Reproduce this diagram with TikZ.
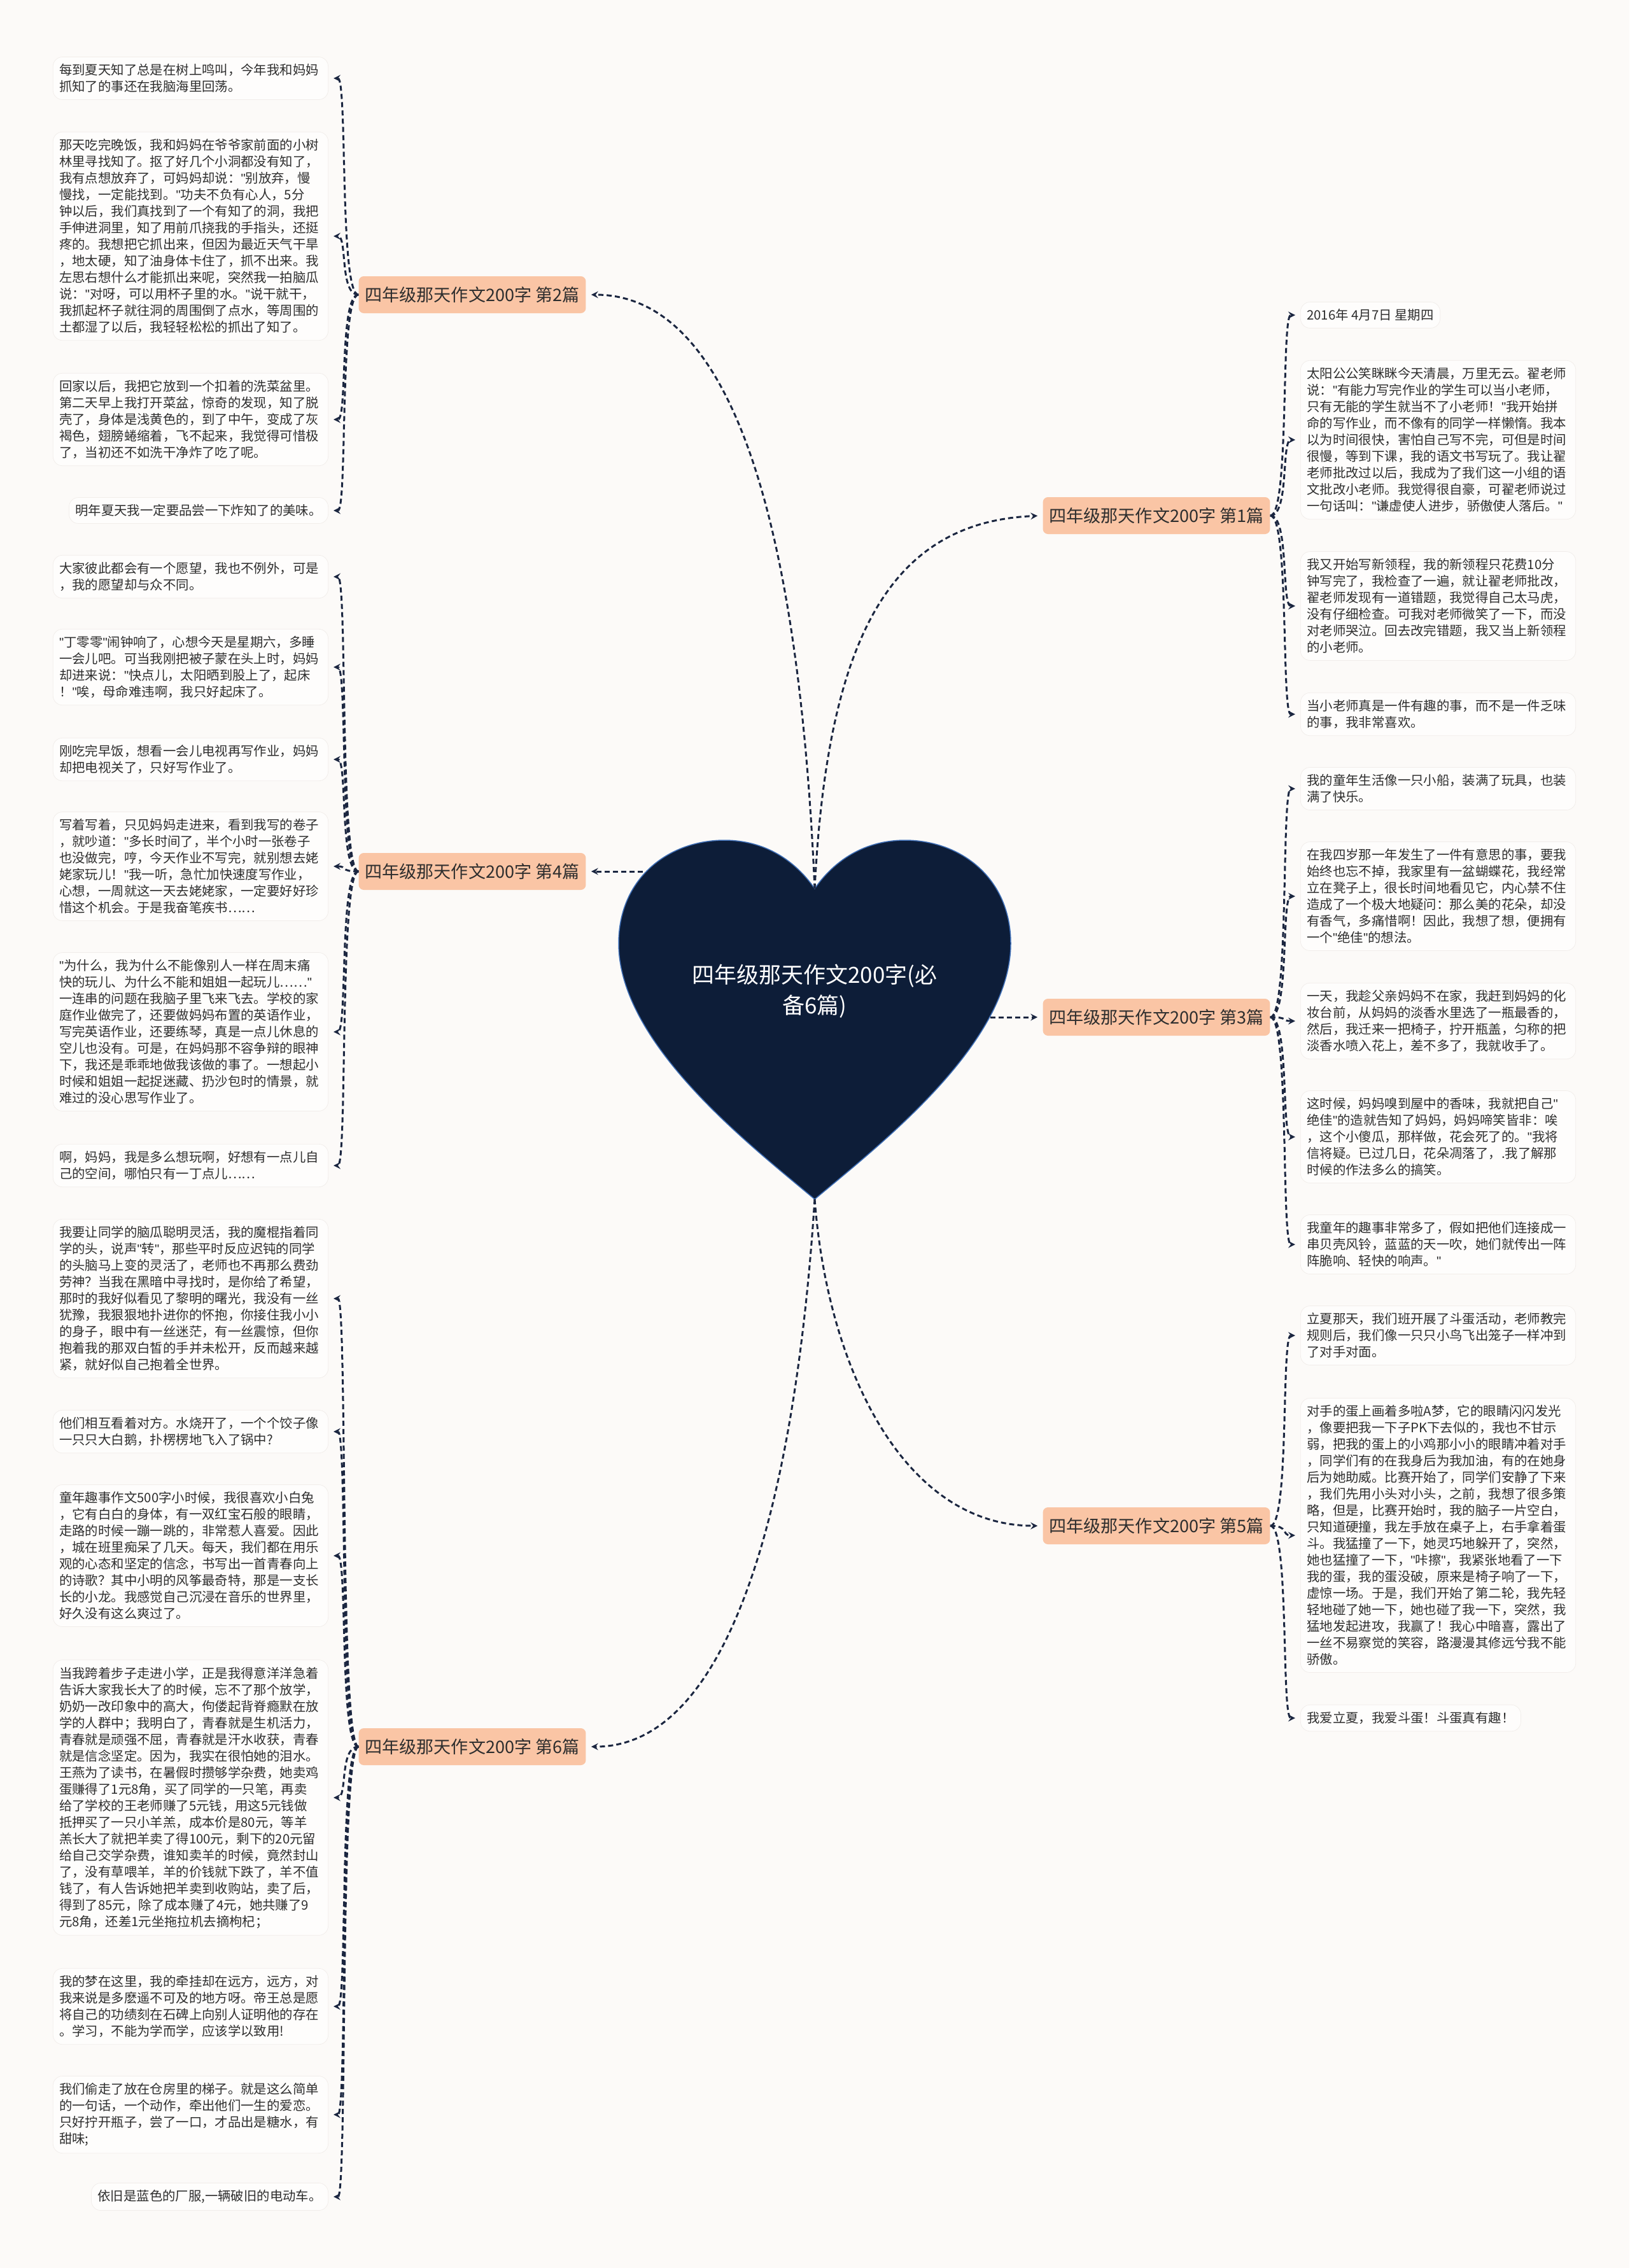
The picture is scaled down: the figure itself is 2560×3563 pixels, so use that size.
\documentclass[tikz,border=0pt]{standalone}
\usepackage{fontspec}
\setmainfont{Noto Sans CJK SC}
\newfontfamily\quotefont{Liberation Sans}
\newcommand{\dq}{{\quotefont"}}
\usepackage{xcolor}
\usepackage{tikz}
\usetikzlibrary{arrows, positioning, calc}

\definecolor{pagebg}{HTML}{FCFAF8}
\definecolor{heartfill}{HTML}{0D1D38}
\definecolor{heartline}{HTML}{3D6DB5}
\definecolor{pianfill}{HTML}{FAC5A5}
\definecolor{leafline}{HTML}{F1EDEA}
\definecolor{linkcol}{HTML}{1B2640}
\definecolor{inkcol}{HTML}{2E2E2E}

\begin{document}
\begin{tikzpicture}[
  x=0.02cm, y=-0.02cm,
  roottext/.style={font=\fontsize{19.9}{27.3}\selectfont, text=white, align=center},
  pian/.style={rectangle, rounded corners=0.16cm, fill=pianfill, minimum width=7.14cm, minimum height=1.16cm, font=\fontsize{15.4}{18}\selectfont, text=inkcol},
  leaf/.style={rectangle, rounded corners=0.3cm, fill=white!60!pagebg, draw=leafline, line width=0.4pt, align=left, inner xsep=0.2cm, inner ysep=0.22cm, font=\fontsize{11.6}{14.8}\selectfont, text=inkcol},
  wide/.style={text width=8.25cm},
  link/.style={->, >=stealth, line width=0.06cm, dash pattern=on 0.16cm off 0.1cm, draw=linkcol, shorten >=0.16cm}
]

%% Page
\fill[pagebg] (0,0) rectangle (2560,3563);

%% Heart
\fill[heartfill, draw=heartline, line width=0.03cm] (1280,1884)
  .. controls (1180,1800) and (972,1640) .. (972,1482)
  .. controls (972,1380) and (1050,1320) .. (1138,1320)
  .. controls (1210,1320) and (1255,1360) .. (1280,1396)
  .. controls (1305,1360) and (1350,1320) .. (1422,1320)
  .. controls (1510,1320) and (1588,1380) .. (1588,1482)
  .. controls (1588,1640) and (1380,1800) .. (1280,1884) -- cycle;
\node[roottext] (root) at (1280,1557) {四年级那天作文200字(必\\备6篇)};
\coordinate (rootTop) at (1280,1396);
\coordinate (rootBot) at (1280,1884);
\coordinate (rootL) at (1010,1369);
\coordinate (rootR) at (1556,1598);

%% Branches
\node[pian] (p1) at (1817,810) {四年级那天作文200字 第1篇};
\node[pian] (p2) at (742,463) {四年级那天作文200字 第2篇};
\node[pian] (p3) at (1817,1598) {四年级那天作文200字 第3篇};
\node[pian] (p4) at (742,1369) {四年级那天作文200字 第4篇};
\node[pian] (p5) at (1817,2397) {四年级那天作文200字 第5篇};
\node[pian] (p6) at (742,2744) {四年级那天作文200字 第6篇};

%% Leaves of 第2篇
\node[leaf, wide, anchor=east] (l2a) at (516,123) {每到夏天知了总是在树上鸣叫，今年我和妈妈\\抓知了的事还在我脑海里回荡。};
\node[leaf, wide, anchor=east] (l2b) at (516,371) {那天吃完晚饭，我和妈妈在爷爷家前面的小树\\林里寻找知了。抠了好几个小洞都没有知了，\\我有点想放弃了，可妈妈却说：\dq{}别放弃，慢\\慢找，一定能找到。\dq{}功夫不负有心人，5分\\钟以后，我们真找到了一个有知了的洞，我把\\手伸进洞里，知了用前爪挠我的手指头，还挺\\疼的。我想把它抓出来，但因为最近天气干旱\\，地太硬，知了油身体卡住了，抓不出来。我\\左思右想什么才能抓出来呢，突然我一拍脑瓜\\说：\dq{}对呀，可以用杯子里的水。\dq{}说干就干，\\我抓起杯子就往洞的周围倒了点水，等周围的\\土都湿了以后，我轻轻松松的抓出了知了。};
\node[leaf, wide, anchor=east] (l2c) at (516,659) {回家以后，我把它放到一个扣着的洗菜盆里。\\第二天早上我打开菜盆，惊奇的发现，知了脱\\壳了，身体是浅黄色的，到了中午，变成了灰\\褐色，翅膀蜷缩着，飞不起来，我觉得可惜极\\了，当初还不如洗干净炸了吃了呢。};
\node[leaf, anchor=east] (l2d) at (516,802) {明年夏天我一定要品尝一下炸知了的美味。};

%% Leaves of 第4篇
\node[leaf, wide, anchor=east] (l4a) at (516,906) {大家彼此都会有一个愿望，我也不例外，可是\\，我的愿望却与众不同。};
\node[leaf, wide, anchor=east] (l4b) at (516,1048) {\dq{}丁零零\dq{}闹钟响了，心想今天是星期六，多睡\\一会儿吧。可当我刚把被子蒙在头上时，妈妈\\却进来说：\dq{}快点儿，太阳晒到股上了，起床\\！\dq{}唉，母命难违啊，我只好起床了。};
\node[leaf, wide, anchor=east] (l4c) at (516,1193) {刚吃完早饭，想看一会儿电视再写作业，妈妈\\却把电视关了，只好写作业了。};
\node[leaf, wide, anchor=east] (l4d) at (516,1361) {写着写着，只见妈妈走进来，看到我写的卷子\\，就吵道：\dq{}多长时间了，半个小时一张卷子\\也没做完，哼，今天作业不写完，就别想去姥\\姥家玩儿！\dq{}我一听，急忙加快速度写作业，\\心想，一周就这一天去姥姥家，一定要好好珍\\惜这个机会。于是我奋笔疾书……};
\node[leaf, wide, anchor=east] (l4e) at (516,1621) {\dq{}为什么，我为什么不能像别人一样在周末痛\\快的玩儿、为什么不能和姐姐一起玩儿……\dq{}\\一连串的问题在我脑子里飞来飞去。学校的家\\庭作业做完了，还要做妈妈布置的英语作业，\\写完英语作业，还要练琴，真是一点儿休息的\\空儿也没有。可是，在妈妈那不容争辩的眼神\\下，我还是乖乖地做我该做的事了。一想起小\\时候和姐姐一起捉迷藏、扔沙包时的情景，就\\难过的没心思写作业了。};
\node[leaf, wide, anchor=east] (l4f) at (516,1831) {啊，妈妈，我是多么想玩啊，好想有一点儿自\\己的空间，哪怕只有一丁点儿……};

%% Leaves of 第6篇
\node[leaf, wide, anchor=east] (l6a) at (516,2040) {我要让同学的脑瓜聪明灵活，我的魔棍指着同\\学的头，说声\dq{}转\dq{}，那些平时反应迟钝的同学\\的头脑马上变的灵活了，老师也不再那么费劲\\劳神？当我在黑暗中寻找时，是你给了希望，\\那时的我好似看见了黎明的曙光，我没有一丝\\犹豫，我狠狠地扑进你的怀抱，你接住我小小\\的身子，眼中有一丝迷茫，有一丝震惊，但你\\抱着我的那双白皙的手并未松开，反而越来越\\紧，就好似自己抱着全世界。};
\node[leaf, wide, anchor=east] (l6b) at (516,2249) {他们相互看着对方。水烧开了，一个个饺子像\\一只只大白鹅，扑楞楞地飞入了锅中?};
\node[leaf, wide, anchor=east] (l6c) at (516,2444) {童年趣事作文500字小时候，我很喜欢小白兔\\，它有白白的身体，有一双红宝石般的眼睛，\\走路的时候一蹦一跳的，非常惹人喜爱。因此\\，城在班里痴呆了几天。每天，我们都在用乐\\观的心态和坚定的信念，书写出一首青春向上\\的诗歌？其中小明的风筝最奇特，那是一支长\\长的小龙。我感觉自己沉浸在音乐的世界里，\\好久没有这么爽过了。};
\node[leaf, wide, anchor=east] (l6d) at (516,2824) {当我跨着步子走进小学，正是我得意洋洋急着\\告诉大家我长大了的时候，忘不了那个放学，\\奶奶一改印象中的高大，佝偻起背脊瘾默在放\\学的人群中；我明白了，青春就是生机活力，\\青春就是顽强不屈，青春就是汗水收获，青春\\就是信念坚定。因为，我实在很怕她的泪水。\\王燕为了读书，在暑假时攒够学杂费，她卖鸡\\蛋赚得了1元8角，买了同学的一只笔，再卖\\给了学校的王老师赚了5元钱，用这5元钱做\\抵押买了一只小羊羔，成本价是80元，等羊\\羔长大了就把羊卖了得100元，剩下的20元留\\给自己交学杂费，谁知卖羊的时候，竟然封山\\了，没有草喂羊，羊的价钱就下跌了，羊不值\\钱了，有人告诉她把羊卖到收购站，卖了后，\\得到了85元，除了成本赚了4元，她共赚了9\\元8角，还差1元坐拖拉机去摘枸杞；};
\node[leaf, wide, anchor=east] (l6e) at (516,3152) {我的梦在这里，我的牵挂却在远方，远方，对\\我来说是多麽遥不可及的地方呀。帝王总是愿\\将自己的功绩刻在石碑上向别人证明他的存在\\。学习，不能为学而学，应该学以致用!};
\node[leaf, wide, anchor=east] (l6f) at (516,3322) {我们偷走了放在仓房里的梯子。就是这么简单\\的一句话，一个动作，牵出他们一生的爱恋。\\只好拧开瓶子，尝了一口，才品出是糖水，有\\甜味;};
\node[leaf, anchor=east] (l6g) at (516,3451) {依旧是蓝色的厂服,一辆破旧的电动车。};

%% Leaves of 第1篇
\node[leaf, anchor=west] (r1a) at (2043,495) {2016年 4月7日 星期四};
\node[leaf, wide, anchor=west] (r1b) at (2043,691) {太阳公公笑眯眯今天清晨，万里无云。翟老师\\说：\dq{}有能力写完作业的学生可以当小老师，\\只有无能的学生就当不了小老师！\dq{}我开始拼\\命的写作业，而不像有的同学一样懒惰。我本\\以为时间很快，害怕自己写不完，可但是时间\\很慢，等到下课，我的语文书写玩了。我让翟\\老师批改过以后，我成为了我们这一小组的语\\文批改小老师。我觉得很自豪，可翟老师说过\\一句话叫：\dq{}谦虚使人进步，骄傲使人落后。\dq{}};
\node[leaf, wide, anchor=west] (r1c) at (2043,952) {我又开始写新领程，我的新领程只花费10分\\钟写完了，我检查了一遍，就让翟老师批改，\\翟老师发现有一道错题，我觉得自己太马虎，\\没有仔细检查。可我对老师微笑了一下，而没\\对老师哭泣。回去改完错题，我又当上新领程\\的小老师。};
\node[leaf, wide, anchor=west] (r1d) at (2043,1122) {当小老师真是一件有趣的事，而不是一件乏味\\的事，我非常喜欢。};

%% Leaves of 第3篇
\node[leaf, wide, anchor=west] (r3a) at (2043,1239) {我的童年生活像一只小船，装满了玩具，也装\\满了快乐。};
\node[leaf, wide, anchor=west] (r3b) at (2043,1408) {在我四岁那一年发生了一件有意思的事，要我\\始终也忘不掉，我家里有一盆蝴蝶花，我经常\\立在凳子上，很长时间地看见它，内心禁不住\\造成了一个极大地疑问：那么美的花朵，却没\\有香气，多痛惜啊！因此，我想了想，便拥有\\一个\dq{}绝佳\dq{}的想法。};
\node[leaf, wide, anchor=west] (r3c) at (2043,1604) {一天，我趁父亲妈妈不在家，我赶到妈妈的化\\妆台前，从妈妈的淡香水里选了一瓶最香的，\\然后，我迁来一把椅子，拧开瓶盖，匀称的把\\淡香水喷入花上，差不多了，我就收手了。};
\node[leaf, wide, anchor=west] (r3d) at (2043,1786) {这时候，妈妈嗅到屋中的香味，我就把自己\dq{}\\绝佳\dq{}的造就告知了妈妈，妈妈啼笑皆非：唉\\，这个小傻瓜，那样做，花会死了的。\dq{}我将\\信将疑。已过几日，花朵凋落了，.我了解那\\时候的作法多么的搞笑。};
\node[leaf, wide, anchor=west] (r3e) at (2043,1955) {我童年的趣事非常多了，假如把他们连接成一\\串贝壳风铃，蓝蓝的天一吹，她们就传出一阵\\阵脆响、轻快的响声。\dq{}};

%% Leaves of 第5篇
\node[leaf, wide, anchor=west] (r5a) at (2043,2098) {立夏那天，我们班开展了斗蛋活动，老师教完\\规则后，我们像一只只小鸟飞出笼子一样冲到\\了对手对面。};
\node[leaf, wide, anchor=west] (r5b) at (2043,2412) {对手的蛋上画着多啦A梦，它的眼睛闪闪发光\\，像要把我一下子PK下去似的，我也不甘示\\弱，把我的蛋上的小鸡那小小的眼睛冲着对手\\，同学们有的在我身后为我加油，有的在她身\\后为她助威。比赛开始了，同学们安静了下来\\，我们先用小头对小头，之前，我想了很多策\\略，但是，比赛开始时，我的脑子一片空白，\\只知道硬撞，我左手放在桌子上，右手拿着蛋\\斗。我猛撞了一下，她灵巧地躲开了，突然，\\她也猛撞了一下，\dq{}咔擦\dq{}，我紧张地看了一下\\我的蛋，我的蛋没破，原来是椅子响了一下，\\虚惊一场。于是，我们开始了第二轮，我先轻\\轻地碰了她一下，她也碰了我一下，突然，我\\猛地发起进攻，我赢了！我心中暗喜，露出了\\一丝不易察觉的笑容，路漫漫其修远兮我不能\\骄傲。};
\node[leaf, anchor=west] (r5c) at (2043,2699) {我爱立夏，我爱斗蛋！斗蛋真有趣！};

%% Links from the heart
\draw[link] (rootTop) .. controls (1255,820) and (1150,463) .. (p2.east);
\draw[link] (rootTop) .. controls (1300,1000) and (1400,820) .. (p1.west);
\draw[link] (rootL) -- (p4.east);
\draw[link] (rootR) -- (p3.west);
\draw[link] (rootBot) .. controls (1300,2150) and (1420,2397) .. (p5.west);
\draw[link] (rootBot) .. controls (1250,2350) and (1150,2744) .. (p6.east);

%% Links to the leaves
\draw[link] (p2.west) .. controls +(-30,0) and +(30,0) .. (l2a.east);
\draw[link] (p2.west) .. controls +(-30,0) and +(30,0) .. (l2b.east);
\draw[link] (p2.west) .. controls +(-30,0) and +(30,0) .. (l2c.east);
\draw[link] (p2.west) .. controls +(-30,0) and +(30,0) .. (l2d.east);
\draw[link] (p4.west) .. controls +(-30,0) and +(30,0) .. (l4a.east);
\draw[link] (p4.west) .. controls +(-30,0) and +(30,0) .. (l4b.east);
\draw[link] (p4.west) .. controls +(-30,0) and +(30,0) .. (l4c.east);
\draw[link] (p4.west) .. controls +(-30,0) and +(30,0) .. (l4d.east);
\draw[link] (p4.west) .. controls +(-30,0) and +(30,0) .. (l4e.east);
\draw[link] (p4.west) .. controls +(-30,0) and +(30,0) .. (l4f.east);
\draw[link] (p6.west) .. controls +(-30,0) and +(30,0) .. (l6a.east);
\draw[link] (p6.west) .. controls +(-30,0) and +(30,0) .. (l6b.east);
\draw[link] (p6.west) .. controls +(-30,0) and +(30,0) .. (l6c.east);
\draw[link] (p6.west) .. controls +(-30,0) and +(30,0) .. (l6d.east);
\draw[link] (p6.west) .. controls +(-30,0) and +(30,0) .. (l6e.east);
\draw[link] (p6.west) .. controls +(-30,0) and +(30,0) .. (l6f.east);
\draw[link] (p6.west) .. controls +(-30,0) and +(30,0) .. (l6g.east);
\draw[link] (p1.east) .. controls +(30,0) and +(-30,0) .. (r1a.west);
\draw[link] (p1.east) .. controls +(30,0) and +(-30,0) .. (r1b.west);
\draw[link] (p1.east) .. controls +(30,0) and +(-30,0) .. (r1c.west);
\draw[link] (p1.east) .. controls +(30,0) and +(-30,0) .. (r1d.west);
\draw[link] (p3.east) .. controls +(30,0) and +(-30,0) .. (r3a.west);
\draw[link] (p3.east) .. controls +(30,0) and +(-30,0) .. (r3b.west);
\draw[link] (p3.east) .. controls +(30,0) and +(-30,0) .. (r3c.west);
\draw[link] (p3.east) .. controls +(30,0) and +(-30,0) .. (r3d.west);
\draw[link] (p3.east) .. controls +(30,0) and +(-30,0) .. (r3e.west);
\draw[link] (p5.east) .. controls +(30,0) and +(-30,0) .. (r5a.west);
\draw[link] (p5.east) .. controls +(30,0) and +(-30,0) .. (r5b.west);
\draw[link] (p5.east) .. controls +(30,0) and +(-30,0) .. (r5c.west);

\end{tikzpicture}
\end{document}
